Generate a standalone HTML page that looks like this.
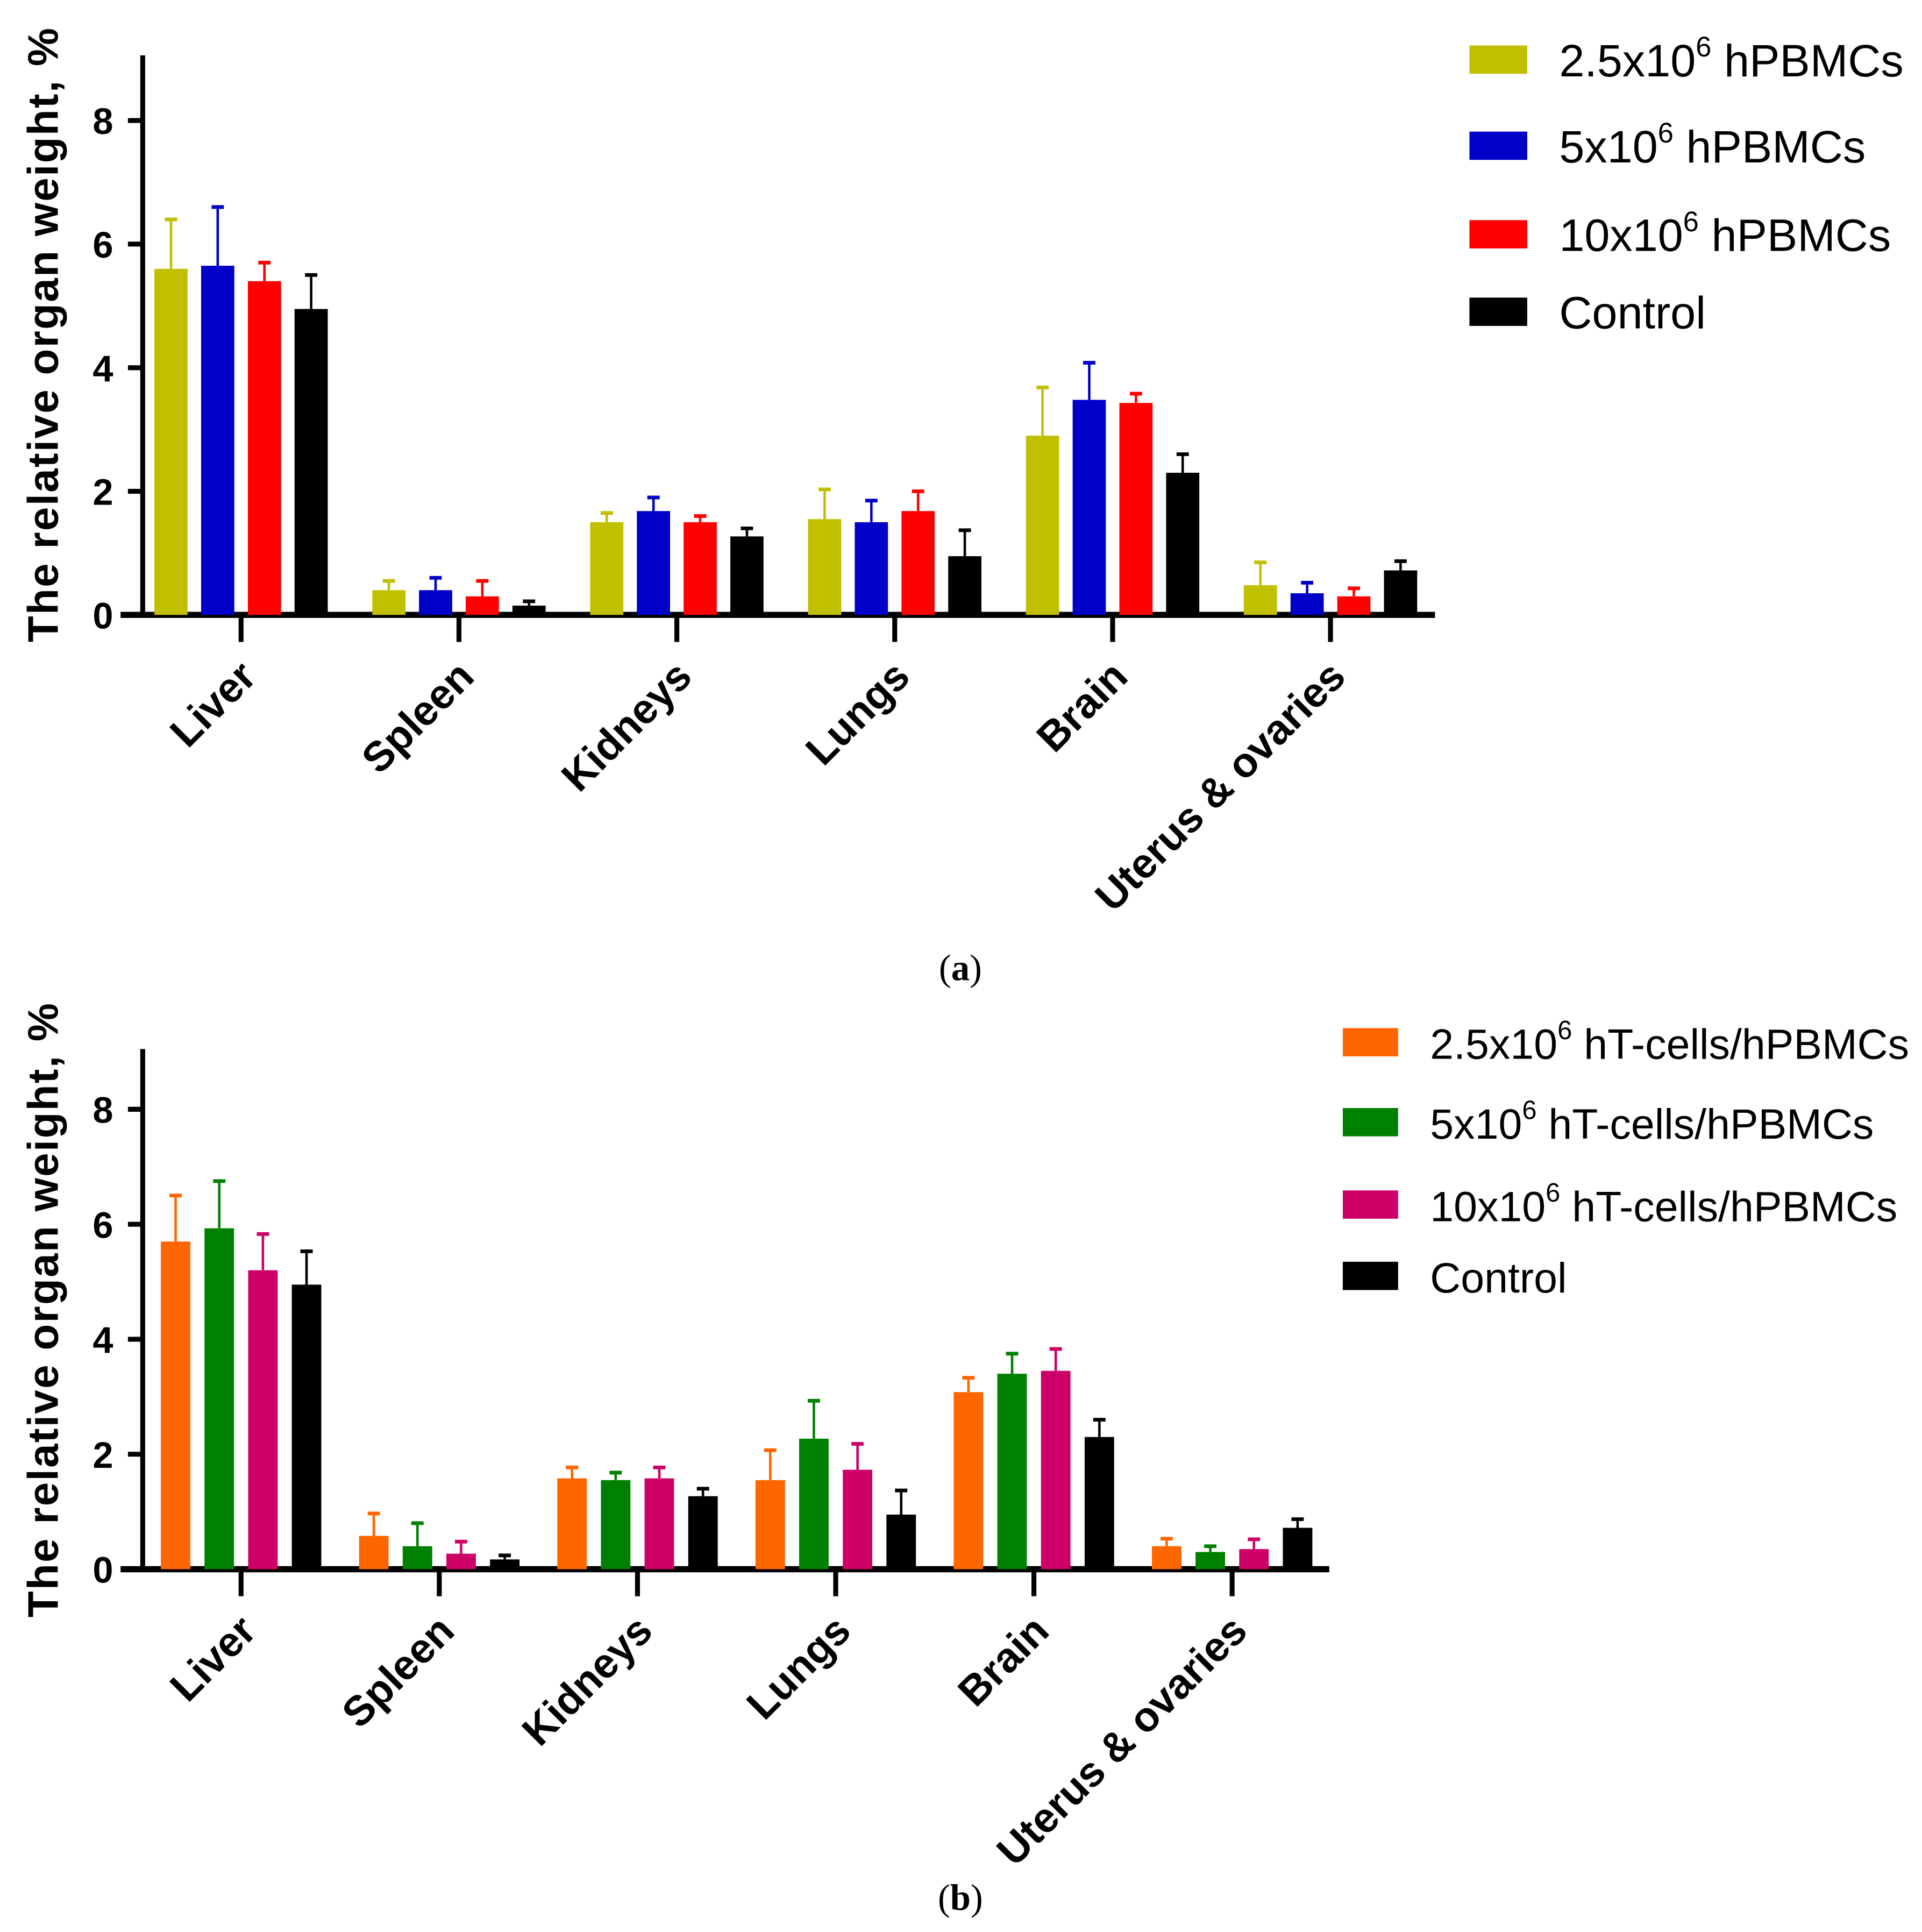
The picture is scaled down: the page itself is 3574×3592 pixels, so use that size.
<!DOCTYPE html>
<html><head><meta charset="utf-8"><style>
html,body{margin:0;padding:0;background:#fff}
svg{display:block}
text{font-family:"Liberation Sans",Arial,sans-serif}
</style></head><body>
<svg id="fig" width="3574" height="3592" viewBox="0 0 1563 1571" xmlns="http://www.w3.org/2000/svg">
<g id="chartA"></g>
<g id="chartB"></g>
<text x="781" y="797" text-anchor="middle" font-size="30" style="font-family:'Liberation Serif',serif">(<tspan font-weight="bold">a</tspan>)</text>
<text x="781" y="1553" text-anchor="middle" font-size="30" style="font-family:'Liberation Serif',serif">(<tspan font-weight="bold">b</tspan>)</text>
</svg>
<script>
const categories = ["Liver","Spleen","Kidneys","Lungs","Brain","Uterus & ovaries"];
const yTicks = [0,2,4,6,8];
const seriesA1 = [5.6,0.4,1.5,1.55,2.9,0.48];
const seriesA2 = [5.65,0.4,1.68,1.5,3.48,0.35];
const seriesA3 = [5.4,0.3,1.5,1.68,3.43,0.3];
const seriesA4 = [4.95,0.15,1.27,0.95,2.3,0.72];
const errA1 = [6.4,0.55,1.65,2.03,3.68,0.85];
const errA2 = [6.6,0.6,1.9,1.85,4.08,0.52];
const errA3 = [5.7,0.55,1.6,2.0,3.58,0.43];
const errA4 = [5.5,0.22,1.4,1.37,2.6,0.87];
const seriesB1 = [5.7,0.58,1.58,1.55,3.08,0.4];
const seriesB2 = [5.93,0.4,1.55,2.27,3.4,0.3];
const seriesB3 = [5.2,0.27,1.58,1.73,3.45,0.35];
const seriesB4 = [4.95,0.17,1.27,0.95,2.3,0.72];
const errB1 = [6.5,0.97,1.77,2.07,3.33,0.53];
const errB2 = [6.75,0.8,1.68,2.93,3.75,0.4];
const errB3 = [5.83,0.48,1.77,2.18,3.83,0.52];
const errB4 = [5.53,0.24,1.4,1.37,2.6,0.87];
const legendA = ["2.5x10|6| hPBMCs","5x10|6| hPBMCs","10x10|6| hPBMCs","Control"];
const legendB = ["2.5x10|6| hT-cells/hPBMCs","5x10|6| hT-cells/hPBMCs","10x10|6| hT-cells/hPBMCs","Control"];

const NS="http://www.w3.org/2000/svg";
function mk(parent,tag,attrs,txt){const e=document.createElementNS(NS,tag);for(const k in attrs)e.setAttribute(k,attrs[k]);if(txt!==undefined)e.textContent=txt;parent.appendChild(e);return e;}

function draw(g,cfg){
  const y=v=>cfg.y0-v*cfg.unit;
  const xc=i=>cfg.c0+i*cfg.cstep;
  const ax=mk(g,'line',{x1:cfg.ax,y1:cfg.top,x2:cfg.ax,y2:cfg.y0+2,stroke:'#000','stroke-width':4});
  
  
  const xa=mk(g,'line',{x1:cfg.xl,y1:cfg.y0,x2:cfg.xr,y2:cfg.y0,stroke:'#000','stroke-width':5});
  
  
  yTicks.forEach(t=>{
    const tl=mk(g,'line',{x1:cfg.ax-12,y1:y(t),x2:cfg.ax,y2:y(t),stroke:'#000','stroke-width':4});
    
    
    const tx=mk(g,'text',{x:cfg.ax-24,y:y(t)+11,'text-anchor':'end','font-size':30,'font-weight':'bold'},String(t));
    
    
  });
  const yt=mk(g,'text',{x:0,y:0,'text-anchor':'middle','font-size':35,'font-weight':'bold','letter-spacing':'1',transform:`translate(${cfg.ytx},${cfg.yty}) rotate(-90)`},'The relative organ weight, %');
  
  
  const offs=[-1.5,-0.5,0.5,1.5];
  categories.forEach((c,i)=>{
    const tk=mk(g,'line',{x1:xc(i),y1:cfg.y0,x2:xc(i),y2:cfg.y0+22,stroke:'#000','stroke-width':4});
    
    
    const lb=mk(g,'text',{x:0,y:0,'text-anchor':'end','font-size':34,'font-weight':'bold',transform:`translate(${xc(i)+14},${cfg.y0+52}) rotate(-45)`},c);
    
    
    cfg.series.forEach((s,j)=>{
      const cx=xc(i)+offs[j]*cfg.bstep;
      const col=cfg.colors[j];
      const el=mk(g,'line',{x1:cx,y1:y(s[i]),x2:cx,y2:y(cfg.errs[j][i]),stroke:col,'stroke-width':2});
      
      
      const cap=mk(g,'line',{x1:cx-5,y1:y(cfg.errs[j][i]),x2:cx+5,y2:y(cfg.errs[j][i]),stroke:col,'stroke-width':3});
      
      
      const r=mk(g,'rect',{x:cx-cfg.bw/2,y:y(s[i]),width:cfg.bw,height:s[i]*cfg.unit,fill:col});
      
      
    });
  });
  cfg.legend.forEach((l,j)=>{
    const ly=cfg.ly[j];
    const sw=mk(g,'rect',{x:cfg.lx,y:ly-11,width:cfg.lw,height:23,fill:cfg.colors[j]});
    
    
    const parts=l.split('|');
    const t=mk(g,'text',{x:cfg.lx+cfg.lw+26,y:ly+14,'font-size':cfg.lfs});
    
    
    mk(t,'tspan',{},parts[0]);
    if(parts.length>1){mk(t,'tspan',{dy:-16,'font-size':cfg.lfs*0.62},parts[1]);mk(t,'tspan',{dy:16},parts[2]);}
  });
}
draw(document.getElementById('chartA'),{y0:500,unit:50.25,top:45,ax:116,xl:98,xr:1167,c0:196,cstep:177.2,bstep:38,bw:27,ytx:47,yty:272,
  series:[seriesA1,seriesA2,seriesA3,seriesA4],errs:[errA1,errA2,errA3,errA4],colors:['#c0c000','#0000c8','#ff0000','#000000'],
  legend:legendA,lx:1195,lw:47,ly:[48,118,190,253],lfs:37});
draw(document.getElementById('chartB'),{y0:1276,unit:46.75,top:853,ax:116,xl:98,xr:1081,c0:196,cstep:161.2,bstep:35.5,bw:24,ytx:47,yty:1065,
  series:[seriesB1,seriesB2,seriesB3,seriesB4],errs:[errB1,errB2,errB3,errB4],colors:['#ff6600','#008000','#cc0066','#000000'],
  legend:legendB,lx:1092,lw:45,ly:[847,912,979,1037],lfs:34.5});
</script>
</body></html>
